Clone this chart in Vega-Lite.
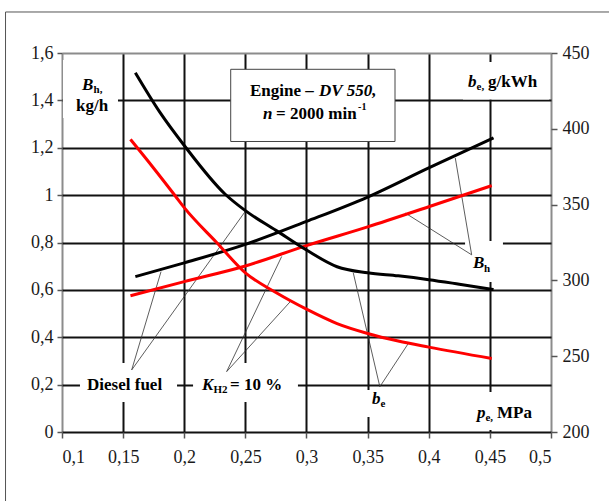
{
  "$schema": "https://vega.github.io/schema/vega-lite/v6.json",
  "width": 489,
  "height": 379,
  "autosize": "none",
  "padding": {"left": 62, "top": 53, "right": 58, "bottom": 69},
  "background": "white",
  "config": {
    "view": {"stroke": null},
    "axis": {
      "title": null,
      "domain": false,
      "labelFont": "Liberation Sans Narrow",
      "labelFontSize": 18,
      "labelColor": "#1a1a1a",
      "tickColor": "#555555",
      "tickWidth": 1.5
    }
  },
  "datasets": {
    "frame": [
      {"x": 0.0538, "y": 1.7731, "x2": 0.0538, "y2": -0.31},
      {"x": 0.0538, "y": 1.7731, "x2": 0.553, "y2": 1.7731}
    ],
    "boxes": [
      {"x": 0.1008, "x2": 0.1458, "y": 1.5704, "y2": 1.3256},
      {"x": 0.428, "x2": 0.4984, "y": 1.562, "y2": 1.4037},
      {"x": 0.1147, "x2": 0.1941, "y": 0.2913, "y2": 0.1266},
      {"x": 0.2072, "x2": 0.293, "y": 0.2913, "y2": 0.1266},
      {"x": 0.3462, "x2": 0.3781, "y": 0.1773, "y2": 0.0633},
      {"x": 0.4337, "x2": 0.4984, "y": 0.1689, "y2": 0.0084},
      {"x": 0.4297, "x2": 0.4607, "y": 0.8063, "y2": 0.6333}
    ],
    "engineBox": [
      {"x": 0.238, "x2": 0.3724, "y": 1.5312, "y2": 1.2264}
    ],
    "bh": [
      {"p": 0.16, "v": 0.656, "fuel": "Diesel fuel"},
      {"p": 0.2, "v": 0.714, "fuel": "Diesel fuel"},
      {"p": 0.25, "v": 0.792, "fuel": "Diesel fuel"},
      {"p": 0.3, "v": 0.889, "fuel": "Diesel fuel"},
      {"p": 0.35, "v": 0.992, "fuel": "Diesel fuel"},
      {"p": 0.4, "v": 1.115, "fuel": "Diesel fuel"},
      {"p": 0.453, "v": 1.242, "fuel": "Diesel fuel"},
      {"p": 0.156, "v": 0.575, "fuel": "KH2 = 10 %"},
      {"p": 0.2, "v": 0.635, "fuel": "KH2 = 10 %"},
      {"p": 0.25, "v": 0.701, "fuel": "KH2 = 10 %"},
      {"p": 0.3, "v": 0.787, "fuel": "KH2 = 10 %"},
      {"p": 0.35, "v": 0.866, "fuel": "KH2 = 10 %"},
      {"p": 0.4, "v": 0.951, "fuel": "KH2 = 10 %"},
      {"p": 0.4515, "v": 1.04, "fuel": "KH2 = 10 %"}
    ],
    "be": [
      {"p": 0.16, "v": 437, "fuel": "Diesel fuel"},
      {"p": 0.18, "v": 411, "fuel": "Diesel fuel"},
      {"p": 0.2, "v": 389, "fuel": "Diesel fuel"},
      {"p": 0.2333, "v": 357, "fuel": "Diesel fuel"},
      {"p": 0.25, "v": 346, "fuel": "Diesel fuel"},
      {"p": 0.275, "v": 333, "fuel": "Diesel fuel"},
      {"p": 0.3, "v": 320, "fuel": "Diesel fuel"},
      {"p": 0.325, "v": 309, "fuel": "Diesel fuel"},
      {"p": 0.35, "v": 305, "fuel": "Diesel fuel"},
      {"p": 0.375, "v": 303, "fuel": "Diesel fuel"},
      {"p": 0.4, "v": 300.5, "fuel": "Diesel fuel"},
      {"p": 0.425, "v": 297.5, "fuel": "Diesel fuel"},
      {"p": 0.453, "v": 294, "fuel": "Diesel fuel"},
      {"p": 0.156, "v": 393, "fuel": "KH2 = 10 %"},
      {"p": 0.175, "v": 374, "fuel": "KH2 = 10 %"},
      {"p": 0.1924, "v": 356, "fuel": "KH2 = 10 %"},
      {"p": 0.2, "v": 348, "fuel": "KH2 = 10 %"},
      {"p": 0.2265, "v": 325, "fuel": "KH2 = 10 %"},
      {"p": 0.25, "v": 305, "fuel": "KH2 = 10 %"},
      {"p": 0.275, "v": 292, "fuel": "KH2 = 10 %"},
      {"p": 0.3, "v": 281, "fuel": "KH2 = 10 %"},
      {"p": 0.325, "v": 271.5, "fuel": "KH2 = 10 %"},
      {"p": 0.35, "v": 265, "fuel": "KH2 = 10 %"},
      {"p": 0.375, "v": 260, "fuel": "KH2 = 10 %"},
      {"p": 0.4, "v": 256, "fuel": "KH2 = 10 %"},
      {"p": 0.4515, "v": 248.5, "fuel": "KH2 = 10 %"}
    ],
    "leaders": [
      {"x": 0.157, "y": 0.262, "x2": 0.181, "y2": 0.677},
      {"x": 0.157, "y": 0.262, "x2": 0.25, "y2": 0.932},
      {"x": 0.2347, "y": 0.255, "x2": 0.2797, "y2": 0.741},
      {"x": 0.2347, "y": 0.255, "x2": 0.2879, "y2": 0.557},
      {"x": 0.36, "y": 0.191, "x2": 0.3383, "y2": 0.671},
      {"x": 0.36, "y": 0.191, "x2": 0.3833, "y2": 0.374},
      {"x": 0.4351, "y": 0.748, "x2": 0.4217, "y2": 1.157},
      {"x": 0.4351, "y": 0.748, "x2": 0.3809, "y2": 0.924}
    ],
    "textBold": [
      {"x": 0.1115, "y": 1.3552, "t": "kg/h"},
      {"x": 0.2538, "y": 1.4185, "t": "Engine –"},
      {"x": 0.2751, "y": 1.3214, "t": "= 2000 min"},
      {"x": 0.4485, "y": 1.4565, "t": "g/kWh"},
      {"x": 0.1205, "y": 0.1773, "t": "Diesel fuel"},
      {"x": 0.2374, "y": 0.1773, "t": "= 10 %"},
      {"x": 0.4558, "y": 0.0591, "t": "MPa"}
    ],
    "textItalic": [
      {"x": 0.1164, "y": 1.4438, "t": "B"},
      {"x": 0.3103, "y": 1.4185, "t": "DV 550,"},
      {"x": 0.2644, "y": 1.3214, "t": "n"},
      {"x": 0.4321, "y": 1.4565, "t": "b"},
      {"x": 0.2145, "y": 0.1773, "t": "K"},
      {"x": 0.3536, "y": 0.1182, "t": "b"},
      {"x": 0.4395, "y": 0.0591, "t": "p"},
      {"x": 0.4362, "y": 0.6924, "t": "B"}
    ],
    "textSub": [
      {"x": 0.1258, "y": 1.4311, "t": "h,"},
      {"x": 0.4391, "y": 1.4438, "t": "e,"},
      {"x": 0.2239, "y": 0.1646, "t": "H2"},
      {"x": 0.3605, "y": 0.1055, "t": "e"},
      {"x": 0.4464, "y": 0.0464, "t": "e,"},
      {"x": 0.4452, "y": 0.6755, "t": "h"}
    ],
    "textSup": [
      {"x": 0.3422, "y": 1.3594, "t": "-1"}
    ]
  },
  "layer": [
    {
      "layer": [
        {
          "data": {"name": "boxes"},
          "mark": {"type": "rect", "fill": "white", "stroke": null},
          "encoding": {
            "x": {
              "field": "x", "type": "quantitative",
              "scale": {"domain": [0.1, 0.5], "nice": false, "zero": false},
              "axis": {
                "orient": "bottom",
                "values": [0.1, 0.15, 0.2, 0.25, 0.3, 0.35, 0.4, 0.45, 0.5],
                "labelExpr": "replace(toString(datum.value), '.', ',')",
                "tickSize": 6,
                "labelPadding": 10,
                "grid": true,
                "gridColor": {"condition": {"test": "datum.value < 0.11 || datum.value > 0.49", "value": "#8c8c8c"}, "value": "#111111"},
                "gridWidth": 2
              }
            },
            "x2": {"field": "x2"},
            "y": {
              "field": "y", "type": "quantitative",
              "scale": {"domain": [0, 1.6], "nice": false, "zero": false},
              "axis": {
                "orient": "left",
                "values": [0, 0.2, 0.4, 0.6, 0.8, 1, 1.2, 1.4, 1.6],
                "labelExpr": "replace(toString(datum.value), '.', ',')",
                "tickSize": 5,
                "labelPadding": 4,
                "grid": true,
                "gridColor": {"condition": {"test": "datum.value > 1.59", "value": "#8c8c8c"}, "value": "#111111"},
                "gridWidth": 2
              }
            },
            "y2": {"field": "y2"}
          }
        },
        {
          "data": {"name": "frame"},
          "mark": {"type": "rule", "color": "#555555", "strokeWidth": 1},
          "encoding": {
            "x": {"field": "x", "type": "quantitative"},
            "y": {"field": "y", "type": "quantitative"},
            "x2": {"field": "x2"},
            "y2": {"field": "y2"}
          }
        },
        {
          "data": {"name": "engineBox"},
          "mark": {"type": "rect", "fill": "white", "stroke": "#444444", "strokeWidth": 1},
          "encoding": {
            "x": {"field": "x", "type": "quantitative"},
            "x2": {"field": "x2"},
            "y": {"field": "y", "type": "quantitative"},
            "y2": {"field": "y2"}
          }
        },
        {
          "data": {"name": "leaders"},
          "mark": {"type": "rule", "color": "#333333", "strokeWidth": 0.8},
          "encoding": {
            "x": {"field": "x", "type": "quantitative"},
            "y": {"field": "y", "type": "quantitative"},
            "x2": {"field": "x2"},
            "y2": {"field": "y2"}
          }
        },
        {
          "data": {"name": "bh"},
          "mark": {"type": "line", "interpolate": "monotone", "strokeWidth": 3},
          "encoding": {
            "x": {"field": "p", "type": "quantitative"},
            "y": {"field": "v", "type": "quantitative"},
            "color": {
              "field": "fuel", "type": "nominal",
              "scale": {"domain": ["Diesel fuel", "KH2 = 10 %"], "range": ["#000000", "#ff0000"]},
              "legend": null
            }
          }
        },
        {
          "data": {"name": "textBold"},
          "mark": {"type": "text", "font": "Liberation Serif", "fontWeight": "bold", "fontSize": 17, "align": "left", "baseline": "alphabetic", "color": "#000000"},
          "encoding": {
            "x": {"field": "x", "type": "quantitative"},
            "y": {"field": "y", "type": "quantitative"},
            "text": {"field": "t"}
          }
        },
        {
          "data": {"name": "textItalic"},
          "mark": {"type": "text", "font": "Liberation Serif", "fontWeight": "bold", "fontStyle": "italic", "fontSize": 17, "align": "left", "baseline": "alphabetic", "color": "#000000"},
          "encoding": {
            "x": {"field": "x", "type": "quantitative"},
            "y": {"field": "y", "type": "quantitative"},
            "text": {"field": "t"}
          }
        },
        {
          "data": {"name": "textSub"},
          "mark": {"type": "text", "font": "Liberation Serif", "fontWeight": "bold", "fontSize": 11, "align": "left", "baseline": "alphabetic", "color": "#000000"},
          "encoding": {
            "x": {"field": "x", "type": "quantitative"},
            "y": {"field": "y", "type": "quantitative"},
            "text": {"field": "t"}
          }
        },
        {
          "data": {"name": "textSup"},
          "mark": {"type": "text", "font": "Liberation Serif", "fontWeight": "bold", "fontSize": 10, "align": "left", "baseline": "alphabetic", "color": "#000000"},
          "encoding": {
            "x": {"field": "x", "type": "quantitative"},
            "y": {"field": "y", "type": "quantitative"},
            "text": {"field": "t"}
          }
        }
      ]
    },
    {
      "data": {"name": "be"},
      "mark": {"type": "line", "interpolate": "monotone", "strokeWidth": 3},
      "encoding": {
        "x": {"field": "p", "type": "quantitative"},
        "y": {
          "field": "v", "type": "quantitative",
          "scale": {"domain": [200, 450], "nice": false, "zero": false},
          "axis": {
            "orient": "right",
            "values": [200, 250, 300, 350, 400, 450],
            "tickSize": 6,
            "labelPadding": 5,
            "grid": false
          }
        },
        "color": {"field": "fuel", "type": "nominal", "legend": null}
      }
    }
  ],
  "resolve": {"scale": {"y": "independent"}}
}
